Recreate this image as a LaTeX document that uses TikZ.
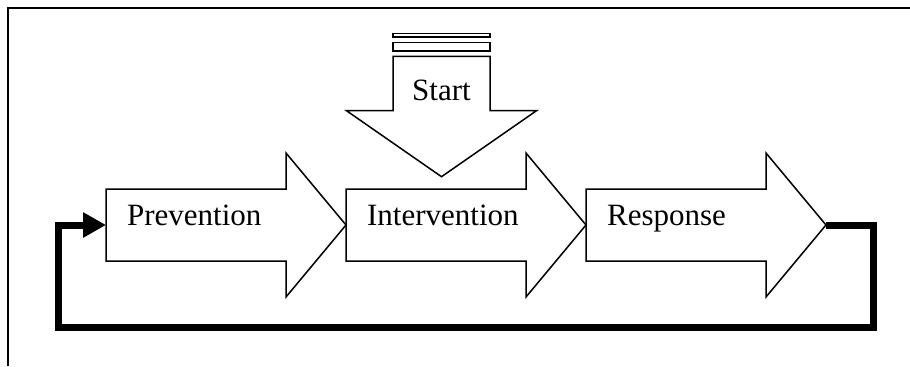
\documentclass[tikz,border=0pt]{standalone}
\usepackage{fontspec}
\setmainfont{Liberation Serif}
\usetikzlibrary{arrows.meta}

\tikzset{
  blockarrow/.style={draw, line width=0.75pt, line join=miter},
  steplabel/.style={anchor=base west, inner sep=0pt, font=\fontsize{15.5}{18}\selectfont},
  feedback/.style={line width=3.5pt, line join=miter, -{Triangle[length=11.5pt,width=12pt]}}
}

\begin{document}
\begin{tikzpicture}[x=5pt,y=5pt]
\useasboundingbox (0,0) rectangle (91,36.6);
% frame
\draw[line width=1pt] (0.8,0) -- (0.8,35.8) -- (91,35.8);
% start arrow
\begin{scope}
\draw[blockarrow] (39.3,33.27) rectangle (49,32.9);
\draw[blockarrow] (39.3,32.37) rectangle (49,31.5);
\draw[blockarrow] (39.3,30.97) -- (39.3,25.53) -- (34.65,25.53) -- (44.15,18.93)
  -- (53.65,25.53) -- (49,25.53) -- (49,30.97) -- cycle;
\node[steplabel, anchor=base] (start) at (44.15,26.6) {Start};
\end{scope}
% prevention
\begin{scope}[shift={(10.6,0)}]
\draw[blockarrow] (0,17.7) -- (18,17.7) -- (18,21.3) -- (24,14.1) -- (18,6.9) -- (18,10.5) -- (0,10.5) -- cycle;
\coordinate (prevtail) at (0,14.1);
\node[steplabel] (prev) at (2.07,14.1) {Prevention};
\end{scope}
% intervention
\begin{scope}[shift={(34.6,0)}]
\draw[blockarrow] (0,17.7) -- (18,17.7) -- (18,21.3) -- (24,14.1) -- (18,6.9) -- (18,10.5) -- (0,10.5) -- cycle;
\node[steplabel] (inter) at (2.07,14.1) {Intervention};
\end{scope}
% response
\begin{scope}[shift={(58.6,0)}]
\draw[blockarrow] (0,17.7) -- (18,17.7) -- (18,21.3) -- (24,14.1) -- (18,6.9) -- (18,10.5) -- (0,10.5) -- cycle;
\coordinate (resptip) at (24,14.1);
\node[steplabel] (resp) at (2.07,14.1) {Response};
\end{scope}
% loop back
\draw[feedback] (resptip) -- ++(4.75,0) |- (5.8,3.85) |- (prevtail);
\end{tikzpicture}
\end{document}
